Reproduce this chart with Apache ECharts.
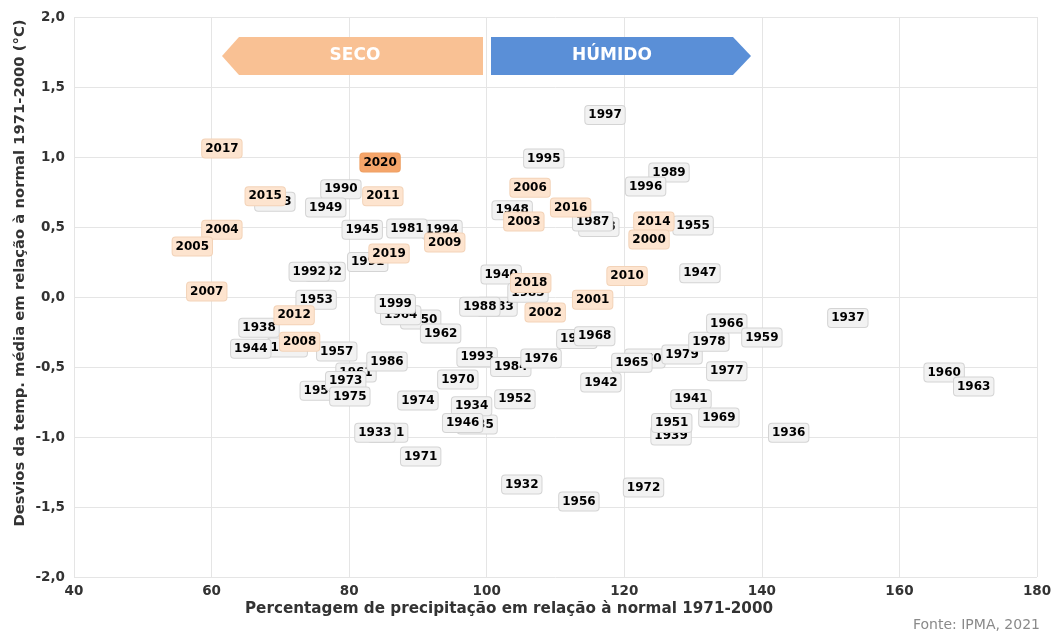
<!DOCTYPE html>
<html>
<head>
<meta charset="utf-8">
<script src="https://cdn.jsdelivr.net/npm/echarts@6/dist/echarts.min.js"></script>
<style>
html,body{margin:0;padding:0;background:#fff;}
#chart{width:1056px;height:634px;}
</style>
</head>
<body>
<div id="chart"></div>
<script>
// Years before 2000 (grey labels); order = drawing order (later on top)
var greyYears  = [1943,1982,1991,1958,1950,1964,1999,1961,1954,1931,1935,1983,1940,1985,1948,1998,1987,1994,1967,1968,1980,1965,1979,1939,1951,1960,1963,
                  1990,1949,1945,1981,1992,1953,1938,1944,1957,1986,1973,1975,1974,1970,1993,1962,1933,1971,1934,1946,1988,1984,1976,1952,1942,1932,1956,1972,
                  1941,1969,1977,1978,1966,1959,1937,1936,1947,1955,1989,1996,1995,1997];
var greyPrecip = [69.2,76.5,82.7,71.0,90.4,87.5,86.7,81.0,75.8,85.6,98.6,101.5,102.1,106.0,103.7,116.3,115.4,93.5,113.1,115.7,123.0,121.1,128.4,126.8,126.9,166.5,170.8,
                  78.8,76.6,81.9,88.4,74.2,75.2,66.9,65.7,78.2,85.5,79.5,80.1,90.0,95.8,98.6,93.3,83.75,90.4,97.8,96.5,99.0,103.5,107.9,104.1,116.6,105.1,113.4,122.8,
                  129.7,133.75,134.9,132.3,134.9,140.0,152.5,143.9,131.0,130.0,126.5,123.1,108.3,117.2];
var greyTemp   = [0.68,0.18,0.25,-0.36,-0.16,-0.13,-0.05,-0.54,-0.67,-0.97,-0.91,-0.07,0.16,0.03,0.62,0.50,0.54,0.48,-0.30,-0.28,-0.44,-0.47,-0.41,-0.99,-0.90,-0.54,-0.64,
                  0.77,0.64,0.48,0.49,0.18,-0.02,-0.22,-0.37,-0.39,-0.46,-0.60,-0.71,-0.74,-0.59,-0.43,-0.26,-0.97,-1.14,-0.78,-0.90,-0.07,-0.50,-0.44,-0.73,-0.61,-1.34,-1.46,-1.36,
                  -0.73,-0.86,-0.53,-0.32,-0.19,-0.29,-0.15,-0.97,0.17,0.51,0.89,0.79,0.99,1.30];

// Years 2000-2019 (light orange labels)
var recentYears  = [2017,2015,2011,2004,2005,2019,2007,2012,2008,2009,2006,2016,2003,2014,2000,2018,2010,2001,2002];
var recentPrecip = [61.5,67.8,84.9,61.5,57.2,85.8,59.3,72.0,72.8,93.9,106.3,112.2,105.4,124.3,123.6,106.4,120.4,115.4,108.5];
var recentTemp   = [1.06,0.72,0.72,0.48,0.36,0.31,0.04,-0.13,-0.32,0.39,0.78,0.64,0.54,0.54,0.41,0.10,0.15,-0.02,-0.11];

// Highlighted year
var currentYear = [2020];
var currentPrecip = [84.5];
var currentTemp = [0.96];

var xTicks = [40,60,80,100,120,140,160,180];
var yTicks = [-2.0,-1.5,-1.0,-0.5,0.0,0.5,1.0,1.5,2.0];

var FONT = '"DejaVu Sans", sans-serif';

function pts(yrs, xs, ys){
  return yrs.map(function(y,i){ return {value:[xs[i], ys[i]], name:String(y)}; });
}
function labelStyle(bg, border){
  return {
    show:true, position:'inside', formatter:function(p){return p.name;},
    fontFamily:FONT, fontWeight:'bold', fontSize:12, color:'#000', opacity:1,
    textBorderWidth:0, textBorderColor:'transparent', textShadowBlur:0,
    backgroundColor:bg, borderColor:border, borderWidth:1, borderRadius:3,
    padding:[3,3,2,3], lineHeight:13
  };
}

var chart = echarts.init(document.getElementById('chart'), null, {renderer:'canvas'});
var option = {
  animation:false,
  backgroundColor:'#fff',
  grid:{left:74, right:19, top:17, bottom:57, containLabel:false},
  xAxis:{
    type:'value', min:xTicks[0], max:xTicks[xTicks.length-1], interval:20,
    axisLine:{show:false}, axisTick:{show:false},
    axisLabel:{color:'#333', fontFamily:FONT, fontWeight:'bold', fontSize:13.5, margin:7},
    splitLine:{show:true, lineStyle:{color:'#e5e5e5', width:1}}
  },
  yAxis:{
    type:'value', min:yTicks[0], max:yTicks[yTicks.length-1], interval:0.5,
    axisLine:{show:false}, axisTick:{show:false},
    axisLabel:{color:'#333', fontFamily:FONT, fontWeight:'bold', fontSize:13.5, margin:9,
      formatter:function(v){return v.toFixed(1).replace('.', ',');}},
    splitLine:{show:true, lineStyle:{color:'#e5e5e5', width:1}}
  },
  series:[
    {type:'scatter', symbolSize:1, itemStyle:{color:'#fff'}, z:3,
     data:pts(greyYears, greyPrecip, greyTemp),
     label:labelStyle('#f2f2f2','#d4d4d4'), emphasis:{disabled:true}},
    {type:'scatter', symbolSize:1, itemStyle:{color:'#fff'}, z:4,
     data:pts(recentYears, recentPrecip, recentTemp),
     label:labelStyle('#fde4cf','#f3d3b8'), emphasis:{disabled:true}},
    {type:'scatter', symbolSize:1, itemStyle:{color:'#fff'}, z:5,
     data:pts(currentYear, currentPrecip, currentTemp),
     label:labelStyle('#f5a56a','#eea064'), emphasis:{disabled:true}}
  ],
  graphic:[
    {type:'polygon', shape:{points:[[222,56],[239,37],[483,37],[483,75],[239,75]]}, style:{fill:'#f9c194'}, z:10},
    {type:'text', style:{text:'SECO', x:355, y:56, align:'center', verticalAlign:'middle', fill:'#fff', font:'bold 17px '+FONT}, z:11},
    {type:'polygon', shape:{points:[[491,37],[733,37],[751,56],[733,75],[491,75]]}, style:{fill:'#5a8fd7'}, z:10},
    {type:'text', style:{text:'HÚMIDO', x:612, y:56, align:'center', verticalAlign:'middle', fill:'#fff', font:'bold 17px '+FONT}, z:11},
    {type:'text', rotation:Math.PI/2, x:20, y:273,
     style:{text:'Desvios da temp. média em relação à normal 1971-2000 (°C)', align:'center', verticalAlign:'middle', fill:'#333', font:'bold 14.8px '+FONT}},
    {type:'text', style:{text:'Percentagem de precipitação em relação à normal 1971-2000', x:509, y:609, align:'center', verticalAlign:'middle', fill:'#333', font:'bold 15.2px '+FONT}},
    {type:'text', style:{text:'Fonte: IPMA, 2021', x:1040, y:625, align:'right', verticalAlign:'middle', fill:'#8a8a8a', font:'14px '+FONT}}
  ]
};
chart.setOption(option);
</script>
</body>
</html>
